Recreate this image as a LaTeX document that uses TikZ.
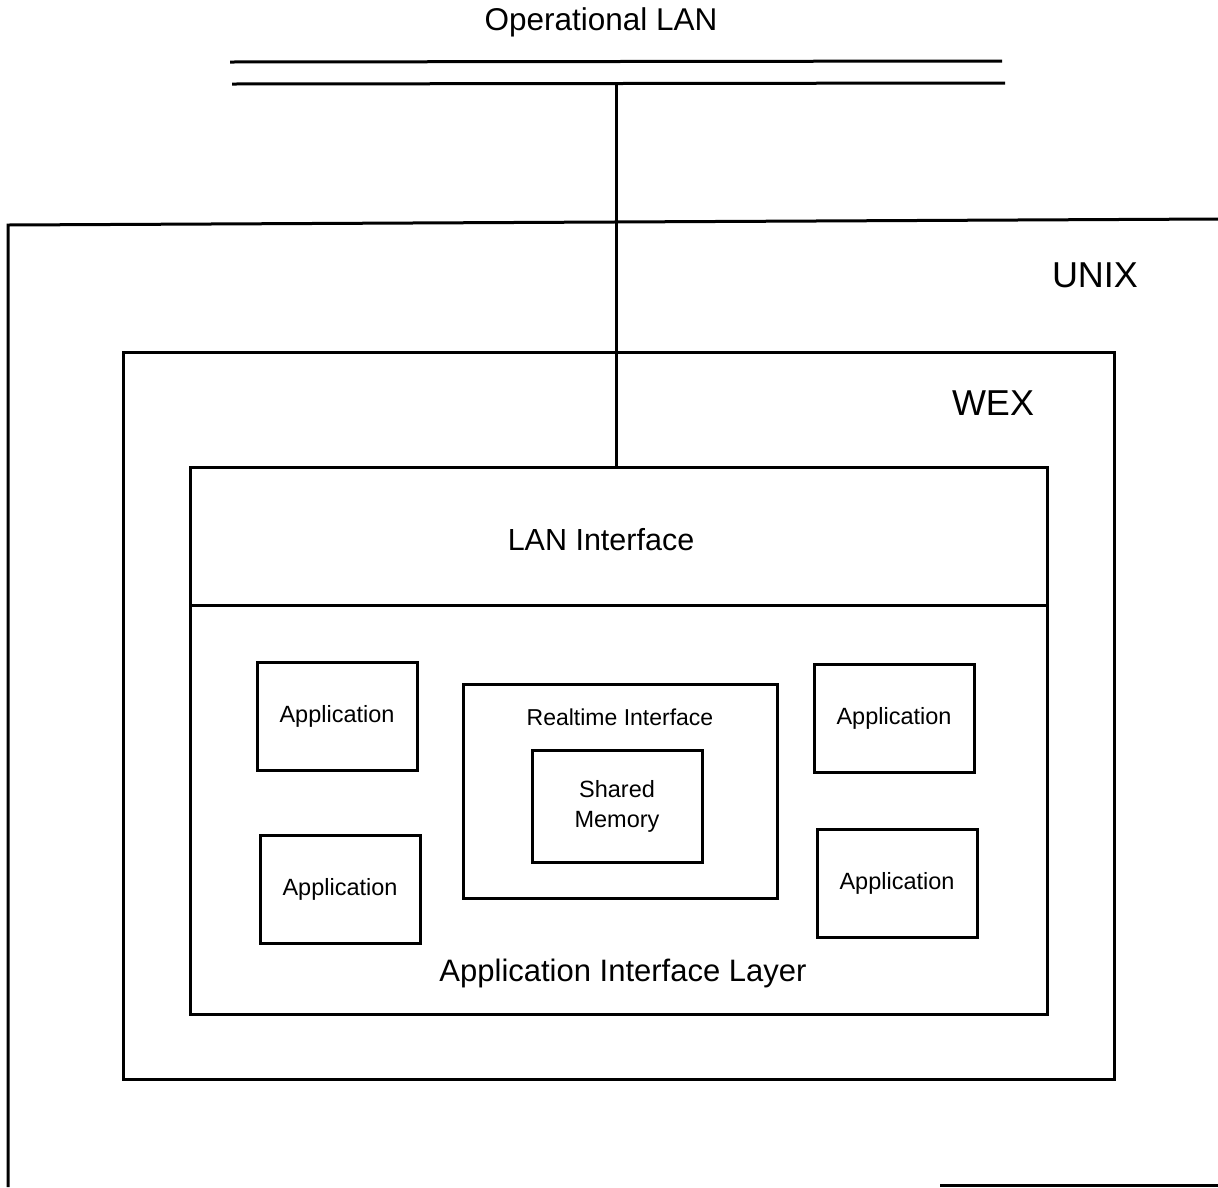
\documentclass[tikz,border=0pt]{standalone}
\usepackage{fontspec}
\setmainfont{Liberation Sans}
\begin{document}
\begin{tikzpicture}[x=1pt,y=-1pt,
  line width=3pt,
  box/.style={draw,line width=3pt,inner sep=0pt,rectangle},
  appbox/.style={box,minimum width=160pt,minimum height=108pt,font=\fontsize{23.5}{28}\selectfont},
  lbl/.style={inner sep=0pt,anchor=center}]
\useasboundingbox (0,0) rectangle (1218,1187);
% LAN bus
\coordinate (l1a) at (230,62);
\coordinate (l1b) at (1002,61);
\coordinate (l2a) at (232,84);
\coordinate (l2b) at (1005,83);
\draw (l1a) -- (l1b);
\draw (l2a) -- (l2b);
\node[lbl,font=\fontsize{31.5}{36}\selectfont] (oplan) at (601,22) {Operational LAN};
% UNIX frame
\coordinate (u1) at (8,1187);
\coordinate (u2) at (8,225);
\coordinate (u3) at (1218,219);
\coordinate (u4) at (940,1185);
\coordinate (u5) at (1218,1185);
\draw (u1) -- (u2) -- (u3);
\draw (u4) -- (u5);
\node[lbl,font=\fontsize{36}{42}\selectfont] (unix) at (1095,275) {UNIX};
% WEX box
\node[box,minimum width=991pt,minimum height=727pt] (wex) at (618.5,715.5) {};
\node[lbl,font=\fontsize{36}{42}\selectfont] (wexl) at (993,403) {WEX};
% Inner box
\node[box,minimum width=857pt,minimum height=547pt] (inner) at (618.5,740.5) {};
\coordinate (divl) at (190,605);
\coordinate (divr) at (1047,605);
\draw (divl) -- (divr);
\node[lbl,font=\fontsize{30.5}{36}\selectfont] (lanif) at (601,540) {LAN Interface};
\node[lbl,font=\fontsize{31}{36}\selectfont] (ail) at (623,973) {Application Interface Layer};
% connector
\coordinate (tap) at (616,84);
\draw (tap) -- (tap |- inner.north);
% applications
\node[appbox] (app1) at (337,716) {Application};
\node[appbox] (app2) at (340,889) {Application};
\node[appbox] (app3) at (894,718) {Application};
\node[appbox] (app4) at (897,883) {Application};
% realtime
\node[box,minimum width=314pt,minimum height=214pt] (rt) at (620,791) {};
\node[lbl,font=\fontsize{23}{28}\selectfont] (rtl) at (620,717) {Realtime Interface};
\node[box,minimum width=170pt,minimum height=112pt,align=center,font=\fontsize{23.5}{30}\selectfont] (shm) at (617,806) {Shared\\Memory};
\end{tikzpicture}
\end{document}
